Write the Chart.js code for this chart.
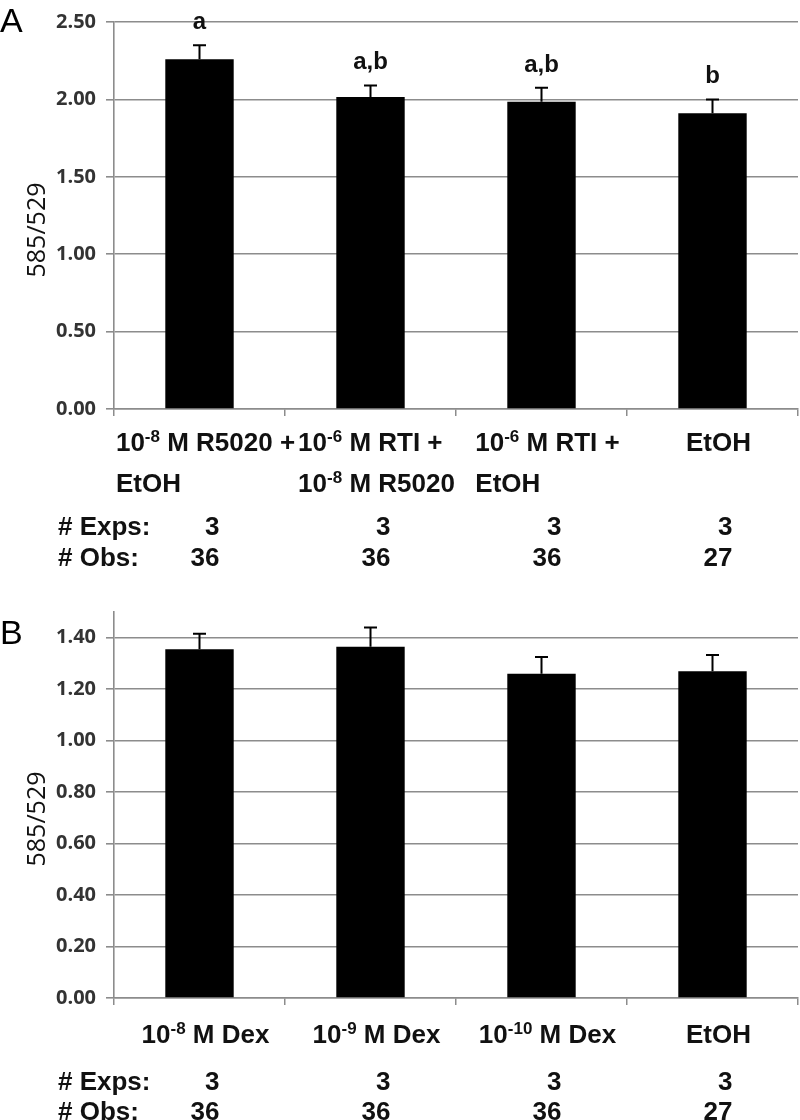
<!DOCTYPE html>
<html>
<head>
<meta charset="utf-8">
<script src="https://cdn.jsdelivr.net/npm/chart.js@4.4.1/dist/chart.umd.min.js"></script>
<style>
  body { margin: 0; background: #fff; width: 800px; height: 1120px; overflow: hidden; position: relative; }
  canvas { position: absolute; left: 0; }
  #chart-a { top: 0; }
  #chart-b { top: 590px; }
</style>
</head>
<body>
<canvas id="chart-a" width="800" height="590"></canvas>
<canvas id="chart-b" width="800" height="530"></canvas>
<script>
// panel A
const labelsA = [['10^-8 M R5020 +', 'EtOH'], ['10^-6 M RTI +', '10^-8 M R5020'], ['10^-6 M RTI +', 'EtOH'], ['EtOH']];
const valuesA = [2.26, 2.015, 1.985, 1.91];
const errorsA = [0.09, 0.075, 0.09, 0.09];
const lettersA = ['a', 'a,b', 'a,b', 'b'];
const expsA = [3, 3, 3, 3];
const obsA = [36, 36, 36, 27];

// panel B
const labelsB = [['10^-8 M Dex'], ['10^-9 M Dex'], ['10^-10 M Dex'], ['EtOH']];
const valuesB = [1.355, 1.365, 1.26, 1.27];
const errorsB = [0.06, 0.075, 0.065, 0.063];
const lettersB = ['', '', '', ''];
const expsB = [3, 3, 3, 3];
const obsB = [36, 36, 36, 27];

const gris = '#8c8c8c';
const fuenteEtiqueta = "'Liberation Sans', Arial, sans-serif";

// "10^-8 M" -> pieces with superscript
const partesTexto = (s) => {
  const out = [];
  const re = /\^(\S+)/g;
  let last = 0, m;
  while ((m = re.exec(s))) {
    if (m.index > last) out.push({ t: s.slice(last, m.index), sup: false });
    out.push({ t: m[1], sup: true });
    last = re.lastIndex;
  }
  if (last < s.length) out.push({ t: s.slice(last), sup: false });
  return out;
};

const fontNormal = (size) => `bold ${size}px ${fuenteEtiqueta}`;

const anchoTexto = (ctx, s, size) => {
  let w = 0;
  partesTexto(s).forEach(p => {
    ctx.font = fontNormal(p.sup ? Math.round(size * 0.64) : size);
    w += ctx.measureText(p.t).width;
  });
  return w;
};

const dibujarTexto = (ctx, s, x, y, size) => {
  partesTexto(s).forEach(p => {
    const sz = p.sup ? Math.round(size * 0.64) : size;
    ctx.font = fontNormal(sz);
    ctx.fillText(p.t, x, p.sup ? y - size * 0.36 : y);
    x += ctx.measureText(p.t).width;
  });
};

const crearGrafico = (canvas, cfg) => {
  const plugin = {
    id: 'extras',
    afterDatasetsDraw(chart) {
      const ctx = chart.ctx;
      const yScale = chart.scales.y;
      const xScale = chart.scales.x;
      const meta = chart.getDatasetMeta(0);
      ctx.save();
      // error bars
      ctx.strokeStyle = '#000';
      ctx.lineWidth = 2;
      meta.data.forEach((bar, i) => {
        const yErr = yScale.getPixelForValue(cfg.valores[i] + cfg.errores[i]);
        ctx.beginPath();
        ctx.moveTo(bar.x, bar.y);
        ctx.lineTo(bar.x, yErr);
        ctx.moveTo(bar.x - 6.5, yErr);
        ctx.lineTo(bar.x + 6.5, yErr);
        ctx.stroke();
        if (cfg.letras[i]) {
          ctx.fillStyle = '#111';
          ctx.font = `bold 24px ${fuenteEtiqueta}`;
          ctx.textAlign = 'center';
          ctx.textBaseline = 'alphabetic';
          ctx.fillText(cfg.letras[i], bar.x, Math.max(yErr - 16, 22));
        }
      });

      // category labels
      ctx.fillStyle = '#111';
      ctx.textAlign = 'left';
      ctx.textBaseline = 'alphabetic';
      cfg.etiquetas.forEach((lineas, i) => {
        const cx = xScale.getPixelForValue(i) + 6;
        const w = Math.max(...lineas.map(l => anchoTexto(ctx, l, 26)));
        lineas.forEach((l, j) => {
          dibujarTexto(ctx, l, cx - w / 2, cfg.yEtiqueta + j * 41, 26);
        });
      });

      // # Exps / # Obs rows
      ctx.font = fontNormal(26);
      ctx.textAlign = 'left';
      ctx.fillText('# Exps:', 58, cfg.yExps);
      ctx.fillText('# Obs:', 58, cfg.yObs);
      ctx.textAlign = 'right';
      cfg.exps.forEach((v, i) => {
        const x = xScale.getPixelForValue(i) + 20;
        ctx.fillText(String(v), x, cfg.yExps);
        ctx.fillText(String(cfg.obs[i]), x, cfg.yObs);
      });

      // axis title
      ctx.save();
      ctx.translate(38, cfg.yTitulo);
      ctx.rotate(-Math.PI / 2);
      ctx.font = "25px 'Open Sans', sans-serif";
      ctx.fillStyle = '#111';
      ctx.textAlign = 'center';
      ctx.textBaseline = 'middle';
      ctx.fillText('585/529', 0, 0);
      ctx.restore();

      // panel letter
      ctx.font = "34px 'Liberation Sans', Arial, sans-serif";
      ctx.fillStyle = '#000';
      ctx.textAlign = 'left';
      ctx.textBaseline = 'top';
      ctx.fillText(cfg.panel, 0, cfg.yPanel);
      ctx.restore();
    }
  };

  return new Chart(canvas, {
    type: 'bar',
    data: {
      labels: cfg.etiquetas.map(l => l.join(' ')),
      datasets: [{
        data: cfg.valores,
        backgroundColor: '#000',
        borderWidth: 0,
        barPercentage: 0.4,
        categoryPercentage: 1
      }]
    },
    options: {
      responsive: false,
      animation: false,
      layout: { padding: { top: 19, right: 2, left: 0, bottom: 0 } },
      plugins: { legend: { display: false }, tooltip: { enabled: false } },
      scales: {
        x: {
          ticks: { display: false },
          grid: { drawOnChartArea: false, tickLength: 7, color: gris, lineWidth: 1.5, offset: true },
          border: { display: true, color: gris, width: 1.5 },
          afterFit: (scale) => { scale.height = canvas.height - cfg.fondo; }
        },
        y: {
          min: 0,
          max: cfg.max,
          ticks: {
            stepSize: cfg.paso,
            padding: 10,
            color: '#333',
            font: { family: "'Open Sans', sans-serif", size: 20, weight: 'bold' },
            callback: (v) => Number(v).toFixed(2)
          },
          grid: { color: gris, lineWidth: 1.6, tickLength: 8 },
          border: { display: true, color: gris, width: 1.6 },
          afterBuildTicks: (scale) => {
            scale.ticks = scale.ticks.filter(t => t.value <= cfg.ultimoTick + 1e-9);
          },
          afterFit: (scale) => { scale.width = 114; }
        }
      }
    },
    plugins: [plugin]
  });
};

crearGrafico(document.getElementById('chart-a'), {
  etiquetas: labelsA, valores: valuesA, errores: errorsA, letras: lettersA,
  exps: expsA, obs: obsA, max: 2.5, paso: 0.5, ultimoTick: 2.5,
  fondo: 409, yEtiqueta: 451, yExps: 535, yObs: 566, yTitulo: 230, panel: 'A', yPanel: 6
});

crearGrafico(document.getElementById('chart-b'), {
  etiquetas: labelsB, valores: valuesB, errores: errorsB, letras: lettersB,
  exps: expsB, obs: obsB, max: 1.5, paso: 0.2, ultimoTick: 1.4,
  fondo: 408, yEtiqueta: 453, yExps: 500, yObs: 530, yTitulo: 229, panel: 'B', yPanel: 28
});
</script>
</body>
</html>
